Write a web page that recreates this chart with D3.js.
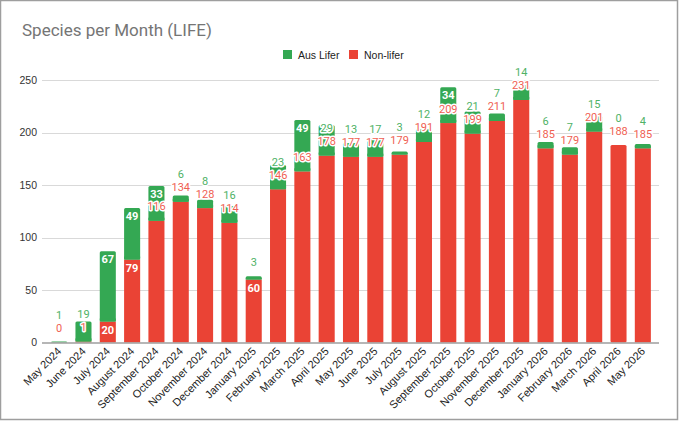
<!DOCTYPE html>
<html><head><meta charset="utf-8">
<script src="https://cdn.jsdelivr.net/npm/d3@7"></script>
<style>
html,body{margin:0;padding:0;background:#fff;}
svg{display:block;}
</style></head>
<body>
<svg id="chart" width="680" height="422"></svg>
<script>
const months = ["May 2024","June 2024","July 2024","August 2024","September 2024","October 2024","November 2024","December 2024","January 2025","February 2025","March 2025","April 2025","May 2025","June 2025","July 2025","August 2025","September 2025","October 2025","November 2025","December 2025","January 2026","February 2026","March 2026","April 2026","May 2026"];
const nonLifer = [0,1,20,79,116,134,128,114,60,146,163,178,177,177,179,191,209,199,211,231,185,179,201,188,185];
const ausLifer = [1,19,67,49,33,6,8,16,3,23,49,29,13,17,3,12,34,21,7,14,6,7,15,0,4];
const yTicks = [0,50,100,150,200,250];
const seriesNames = ["Aus Lifer","Non-lifer"];
const colors = {life:"#34a853", non:"#ea4335"};
const labelColors = {life:"#4fb266", non:"#ef5f53"};

const svg = d3.select("#chart");
// frame
svg.append("rect").attr("x",0.5).attr("y",0.5).attr("width",677).attr("height",419)
  .attr("fill","#fff").attr("stroke","#9e9e9e").attr("stroke-width",1.5);

const x = d3.scaleBand().domain(months).range([47,655]).paddingInner(0.34).paddingOuter(0.17);
const y = d3.scaleLinear().domain([0,250]).range([342.5,80]);
const gridL = 42, gridR = 659;

// title
svg.append("text").attr("x",22).attr("y",36).text("Species per Month (LIFE)")
  .attr("font-family","Roboto, Arial, sans-serif").attr("font-size",17).attr("fill","#757575");

// legend
const leg = svg.append("g").attr("font-family","Arial, 'Liberation Sans', sans-serif").attr("font-size",10.5).attr("fill","#222");
const legItems = [{n:seriesNames[0],c:colors.life,x:283},{n:seriesNames[1],c:colors.non,x:349}];
legItems.forEach(d=>{
  leg.append("rect").attr("x",d.x).attr("y",50).attr("width",9).attr("height",9).attr("fill",d.c);
  leg.append("text").attr("x",d.x+15).attr("y",58.5).text(d.n);
});

// gridlines
svg.append("g").selectAll("line").data(yTicks.filter(t=>t>0)).join("line")
  .attr("x1",gridL).attr("x2",gridR).attr("y1",d=>Math.round(y(d))+0.5).attr("y2",d=>Math.round(y(d))+0.5)
  .attr("stroke","#d9d9d9").attr("stroke-width",1);

// y axis labels
const yAxis = d3.axisLeft(y).tickValues(yTicks).tickSize(0).tickPadding(0);
const gy = svg.append("g").attr("transform",`translate(37,0)`).call(yAxis);
gy.select(".domain").remove();
gy.selectAll("text").attr("font-family","Arial, 'Liberation Sans', sans-serif").attr("font-size",10.5).attr("fill","#333");

// bars
const data = months.map((m,i)=>({m, non:nonLifer[i], life:ausLifer[i]}));
const bars = svg.append("g");
data.forEach(d=>{
  const bx = x(d.m), bw = x.bandwidth();
  const r = 1.5;
  if(d.non>0){
    bars.append("rect").attr("x",bx).attr("width",bw)
      .attr("y",y(d.non)).attr("height",y(0)-y(d.non)).attr("fill",colors.non).attr("rx",d.life>0?0:r);
  }
  if(d.life>0){
    bars.append("rect").attr("x",bx).attr("width",bw)
      .attr("y",y(d.non+d.life)).attr("height",y(d.non)-y(d.non+d.life)).attr("fill",colors.life).attr("rx",r);
    if(d.non>0){
      const h = y(d.non)-y(d.non+d.life);
      if(h>3) bars.append("rect").attr("x",bx).attr("width",bw).attr("y",y(d.non)-Math.min(h/2,3)).attr("height",Math.min(h/2,3)).attr("fill",colors.life);
    }
  }
});

// baseline
svg.append("line").attr("x1",gridL).attr("x2",gridR).attr("y1",y(0)+0.5).attr("y2",y(0)+0.5)
  .attr("stroke","#9e9e9e").attr("stroke-width",1.5);

// annotations
const ann = svg.append("g").attr("font-family","Roboto, Arial, sans-serif").attr("font-size",11).attr("text-anchor","middle");
function label(cx, cy, txt, inside, col){
  const t = ann.append("text").attr("x",cx).attr("y",cy).attr("dy","0.36em").text(txt);
  if(inside){
    t.attr("fill","#fff").attr("font-weight","bold");
  } else {
    t.attr("fill",col).attr("stroke","#fff").attr("stroke-width",3).attr("paint-order","stroke").attr("stroke-linejoin","round");
  }
}
data.forEach(d=>{
  const cx = x(d.m)+x.bandwidth()/2;
  const redTop = y(d.non), greenTop = y(d.non+d.life);
  const redH = y(0)-redTop, greenH = redTop-greenTop;
  const redIn = String(d.non).length<=2 && redH>=18;
  const greenIn = String(d.life).length<=2 && greenH>=32;
  let redY;
  if(redIn){ redY = redTop+8.5; } else { redY = redTop-14.5; }
  label(cx, redY, String(d.non), redIn, labelColors.non);
  let gY;
  if(greenIn){ gY = greenTop+8; }
  else if(!redIn){ gY = redY-13; }
  else { gY = greenTop-14; }
  label(cx, gY, String(d.life), greenIn, labelColors.life);
});

// x labels
const xl = svg.append("g").attr("font-family","Arial, 'Liberation Sans', sans-serif").attr("font-size",11).attr("fill","#222");
months.forEach(m=>{
  const cx = x(m)+x.bandwidth()/2;
  xl.append("text").attr("transform",`translate(${cx+3},${352}) rotate(-45)`).attr("text-anchor","end").text(m);
});
</script>
</body></html>
